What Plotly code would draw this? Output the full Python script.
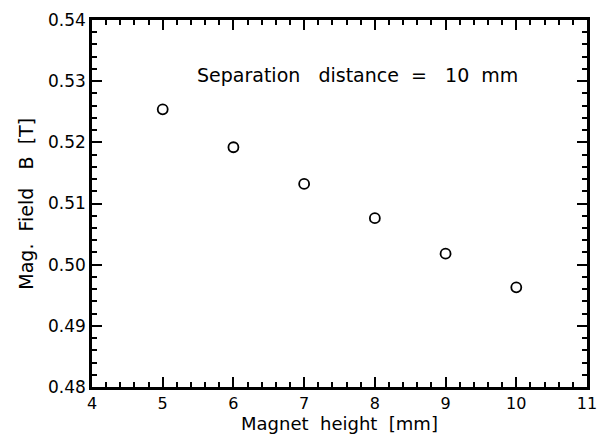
import plotly.graph_objects as go

magnet_height = [5, 6, 7, 8, 9, 10]
mag_field = [0.5254, 0.5192, 0.5132, 0.5076, 0.5018, 0.4963]
x_ticks = [4, 5, 6, 7, 8, 9, 10, 11]
y_ticks = [0.48, 0.49, 0.50, 0.51, 0.52, 0.53, 0.54]
y_tick_text = ["0.48", "0.49", "0.50", "0.51", "0.52", "0.53", "0.54"]

FONT = "DejaVu Sans"

fig = go.Figure()
fig.add_trace(go.Scatter(
    x=magnet_height, y=mag_field, mode="markers",
    marker=dict(symbol="circle-open", size=10, color="black",
                line=dict(width=1.8, color="black")),
    showlegend=False,
))

axis_common = dict(
    showgrid=False, zeroline=False, showline=True, linecolor="black",
    linewidth=2.5, mirror="allticks", ticks="inside", ticklen=10,
    tickwidth=1.8, tickcolor="black", automargin=False,
)

fig.update_xaxes(
    range=[4, 11], tickvals=x_ticks,
    tickfont=dict(family=FONT, size=16, color="black"),
    minor=dict(dtick=0.2, ticks="inside", ticklen=5, tickwidth=1.5, tickcolor="black"),
    **axis_common,
)
fig.update_yaxes(
    range=[0.48, 0.54], tickvals=y_ticks, ticktext=y_tick_text,
    tickfont=dict(family=FONT, size=17, color="black"),
    minor=dict(dtick=0.002, ticks="inside", ticklen=5, tickwidth=1.5, tickcolor="black"),
    **axis_common,
)

# axis titles
fig.add_annotation(
    xref="paper", yref="paper", x=0.5, y=-0.1, xanchor="center", yanchor="middle",
    text="Magnet  height  [mm]", showarrow=False,
    font=dict(family=FONT, size=18, color="black"),
)
fig.add_annotation(
    xref="paper", yref="paper", x=-0.135, y=0.5, xanchor="center", yanchor="middle",
    text="Mag.  Field   B  [T]", showarrow=False, textangle=-90,
    font=dict(family=FONT, size=19, color="black"),
)

fig.add_annotation(
    xref="paper", yref="paper", x=0.208, y=0.85, xanchor="left", yanchor="middle",
    text="Separation   distance  =   10  mm", showarrow=False,
    font=dict(family=FONT, size=19, color="black"),
)

fig.update_layout(
    width=605, height=434,
    margin=dict(l=92, r=18, t=20, b=47),
    paper_bgcolor="white", plot_bgcolor="white",
)

fig.write_html("out.html")
